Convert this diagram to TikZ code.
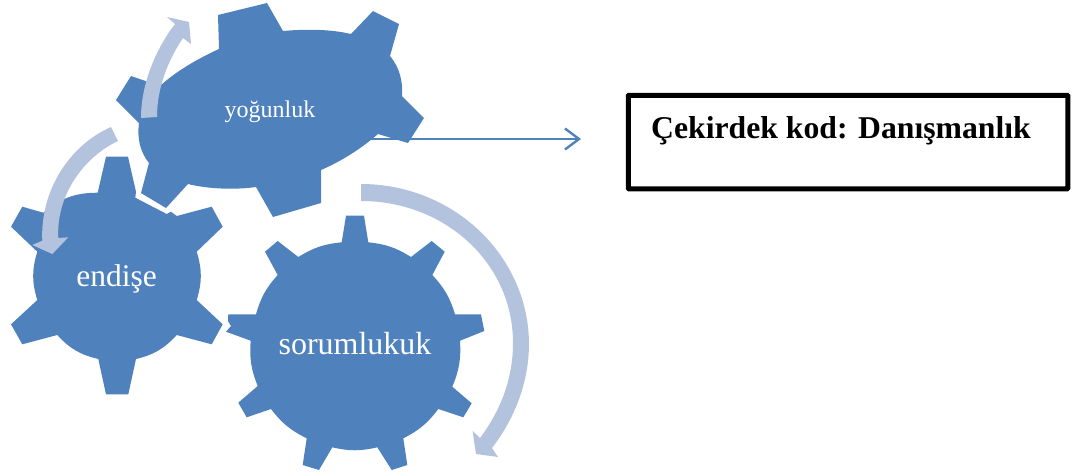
\documentclass[tikz,border=0pt]{standalone}
\usepackage{fontspec}
\setmainfont{Liberation Serif}
\usetikzlibrary{arrows.meta}
\definecolor{gearblue}{HTML}{4F81BD}
\definecolor{cyclelight}{HTML}{B3C2DD}
\tikzset{
  gear/.style={fill=gearblue,draw=none},
  cyclearrow/.style={fill=cyclelight,draw=none},
  gearlabel/.style={text=white,inner sep=0pt,font=\fontsize{#1}{#1}\selectfont},
  pointer/.style={draw=gearblue,line width=2.4pt,-{Straight Barb[length=14pt,width=21pt,line width=2.4pt]}},
  corebox/.style={draw=black,line width=5pt,fill=white,rounded corners=0.6pt,inner sep=0pt,minimum width=439.5pt,minimum height=93.5pt}
}
\begin{document}
\begin{tikzpicture}[x=1pt,y=-1pt]
\useasboundingbox (0,0) rectangle (1074,475);
% left gear
\fill[gear] (106,156.7) -- (128,156.7) -- (136,191.7) -- (135.3,197.7) -- (166.7,214) -- (171,211.7) -- (176.7,216) -- (211.7,206.7) -- (222.7,226.7) -- (196.7,251.7) to[bend left=17] (196.7,300) -- (222.7,324.3) -- (211.7,344.3) -- (176.7,335) to[bend left=17] (136,359) -- (128.3,394.3) -- (106,394.3) -- (98.3,359) to[bend left=17] (57.3,335) -- (22.3,344.3) -- (11,324.3) -- (37.3,300) to[bend left=17] (37.3,251.7) -- (11,226.7) -- (22.3,206.7) -- (43.3,212.7) to[bend left=20] (97.7,192.7) -- cycle;
% right gear
\fill[gear] (346,215.7) -- (364,215.7) -- (368.3,242.3) to[bend left=13] (411,257) -- (431.7,241) -- (444.7,251.7) -- (432.3,275) to[bend left=13] (455,314.3) -- (481,314.3) -- (484.3,331) -- (460,340.7) to[bend left=13] (452.3,386.7) -- (471.7,403.3) -- (463.3,417.3) -- (438.3,409) to[bend left=13] (403.3,438.3) -- (407.3,465) -- (391.7,470) -- (377.3,447.3) to[bend left=13] (332.3,447.3) -- (319,470) -- (302.7,465) -- (306.7,438.3) to[bend left=13] (271,409) -- (246.7,417.3) -- (238.3,402.7) -- (257.7,386) to[bend left=13] (250.7,340.7) -- (226,331.7) -- (231,326) -- (228,321) -- (228.3,314.3) -- (256,314.3) to[bend left=13] (277.7,275) -- (265,251.7) -- (277.7,241) -- (298.3,257) to[bend left=13] (341.7,242.3) -- cycle;
% top gear
\fill[gear] (218,15) -- (267,3) -- (283,31) .. controls (305,29) and (330,29) .. (351,34) -- (373,11) -- (399,24) -- (390,56) .. controls (400,68) and (403,82) .. (402,96) -- (424,118) -- (408,143) -- (378,134) .. controls (362,148) and (342,161) .. (321,170) -- (321,203) -- (273,217) -- (256,187) .. controls (235,190) and (208,189) .. (188,184) -- (166,208) -- (141,193) -- (149,163) .. controls (140,152) and (137,138) .. (139,123) -- (116,100) -- (131,76) -- (160,86) .. controls (175,72) and (197,59) .. (219,49) -- cycle;
% labels
\node[gearlabel=24] (yog) at (270,112) {yoğunluk};
\node[gearlabel=31.5] (end) at (116.7,279) {endişe};
\node[gearlabel=32] (sor) at (355,344) {sorumlukuk};
% cycle arrows
\fill[cyclearrow] (141,118) .. controls (141,85) and (155,50) .. (175,24) -- (167,17) -- (189,22) -- (191,44) -- (183,38) .. controls (168,60) and (157,88) .. (157,117) -- cycle;
\fill[cyclearrow] (111,127) .. controls (70,145) and (40,190) .. (42.3,240.7) -- (32.3,245) -- (52.3,254) -- (68.3,237.3) -- (58.3,238) .. controls (56,197) and (82,158) .. (118,141) -- cycle;
\fill[cyclearrow] (361,184) .. controls (453,184) and (528,255) .. (529,343) .. controls (529,382) and (515,418) .. (492,448) -- (498,457) -- (476,454) -- (472.6,431) -- (480,438) .. controls (501,410) and (513,378) .. (513,343) .. controls (513,263) and (445,201) .. (361,201) -- cycle;
% core box
\node[corebox] (core) at (848,142) {};
\node[anchor=west,inner sep=0pt,font=\bfseries\fontsize{31.7}{32}\selectfont] (corelabel) at (651,131) {Çekirdek kod: Danışmanlık};
% pointer
\coordinate (ptrstart) at (368,139);
\coordinate (ptrend) at (581,139);
\draw[pointer] (ptrstart) -- (ptrend);
\end{tikzpicture}
\end{document}
